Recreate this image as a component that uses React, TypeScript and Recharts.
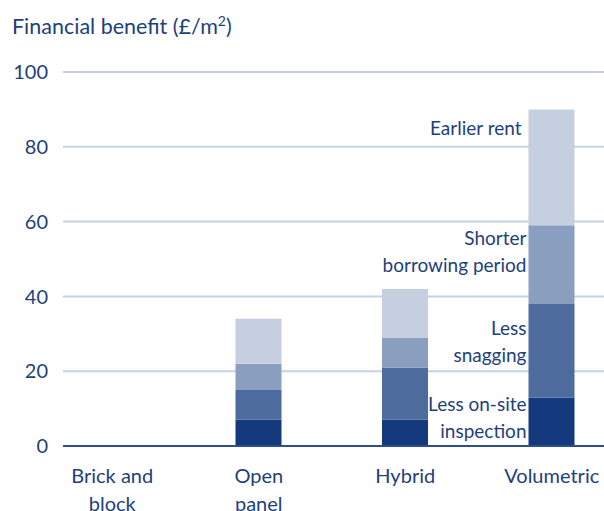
import React from 'react';
import { BarChart, Bar, XAxis, YAxis, CartesianGrid, LabelList } from 'recharts';

const categories = [['Brick and', 'block'], ['Open', 'panel'], ['Hybrid'], ['Volumetric']];
const inspection = [0, 7, 7, 13];
const snagging = [0, 8, 14, 25];
const borrowing = [0, 7, 8, 21];
const earlierRent = [0, 12, 13, 31];
const yTicks = [0, 20, 40, 60, 80, 100];

const segmentLabels = {
  inspection: ['Less on-site', 'inspection'],
  snagging: ['Less', 'snagging'],
  borrowing: ['Shorter', 'borrowing period'],
  earlierRent: ['Earlier rent'],
};

const TEXT = '#1e3f7c';
const FONT = 'Lato, "Open Sans", sans-serif';

const data = categories.map((lines, i) => ({
  name: lines.join(' '),
  lines,
  inspection: inspection[i],
  snagging: snagging[i],
  borrowing: borrowing[i],
  earlierRent: earlierRent[i],
}));

const lastName = data[data.length - 1].name;

const CategoryTick = ({ x, y, payload }: any) => {
  const row = data.find(d => d.name === payload.value);
  const lines = row ? row.lines : [payload.value];
  return (
    <text x={x} y={y} textAnchor="middle" fill={TEXT} fontSize={20} fontFamily={FONT}>
      {lines.map((l: string, i: number) => (
        <tspan key={i} x={x} dy={i === 0 ? 35 : 27.5}>{l}</tspan>
      ))}
    </text>
  );
};

// annotations sit to the left of the last (Volumetric) bar
const makeSegmentLabel = (lines: string[], baseline: number, gap: number) => (props: any) => {
  if (props.value !== lastName) return null;
  const vb = props.viewBox || {};
  const bx = vb.x ?? props.x;
  const by = vb.y ?? props.y;
  const x = bx - gap;
  return (
    <text x={x} y={by + baseline} textAnchor="end" fill={TEXT} fontSize={19} fontFamily={FONT}>
      {lines.map((l, i) => (
        <tspan key={i} x={x} dy={i === 0 ? 0 : 27}>{l}</tspan>
      ))}
    </text>
  );
};

export default function App() {
  return (
    <div style={{ position: 'relative', width: 604, height: 511, background: '#fff', overflow: 'hidden' }}>
      <style>{'body{margin:0}'}</style>
      <div
        style={{
          position: 'absolute',
          left: 12,
          top: 16,
          fontFamily: FONT,
          fontSize: 21.5,
          lineHeight: '21px',
          color: TEXT,
          whiteSpace: 'nowrap',
        }}
      >
        Financial benefit (£/m<sup style={{ fontSize: 14, lineHeight: 0 }}>2</sup>)
      </div>
      <BarChart
        width={604}
        height={511}
        data={data}
        margin={{ top: 72, right: 0, left: 0, bottom: 0 }}
        barSize={46}
      >
        <CartesianGrid vertical={false} stroke="#c8d2e2" strokeWidth={2} />
        <XAxis
          dataKey="name"
          height={65}
          padding={{ left: -24, right: -21 }}
          tickLine={false}
          tickSize={0}
          axisLine={{ stroke: '#2f4f8a', strokeWidth: 2 }}
          tick={<CategoryTick />}
          interval={0}
        />
        <YAxis
          width={63}
          domain={[0, 100]}
          ticks={yTicks}
          axisLine={false}
          tickLine={false}
          tickSize={0}
          tickMargin={15}
          tick={{ fill: TEXT, fontSize: 20, fontFamily: FONT }}
        />
        <Bar dataKey="inspection" stackId="a" fill="#143a7d" isAnimationActive={false}>
          <LabelList dataKey="name" content={makeSegmentLabel(segmentLabels.inspection, 14, 2)} />
        </Bar>
        <Bar dataKey="snagging" stackId="a" fill="#4e6b9d" isAnimationActive={false}>
          <LabelList dataKey="name" content={makeSegmentLabel(segmentLabels.snagging, 31, 2)} />
        </Bar>
        <Bar dataKey="borrowing" stackId="a" fill="#8a9fbf" isAnimationActive={false}>
          <LabelList dataKey="name" content={makeSegmentLabel(segmentLabels.borrowing, 20, 2)} />
        </Bar>
        <Bar dataKey="earlierRent" stackId="a" fill="#c5cfe0" isAnimationActive={false}>
          <LabelList dataKey="name" content={makeSegmentLabel(segmentLabels.earlierRent, 26, 7)} />
        </Bar>
      </BarChart>
    </div>
  );
}
